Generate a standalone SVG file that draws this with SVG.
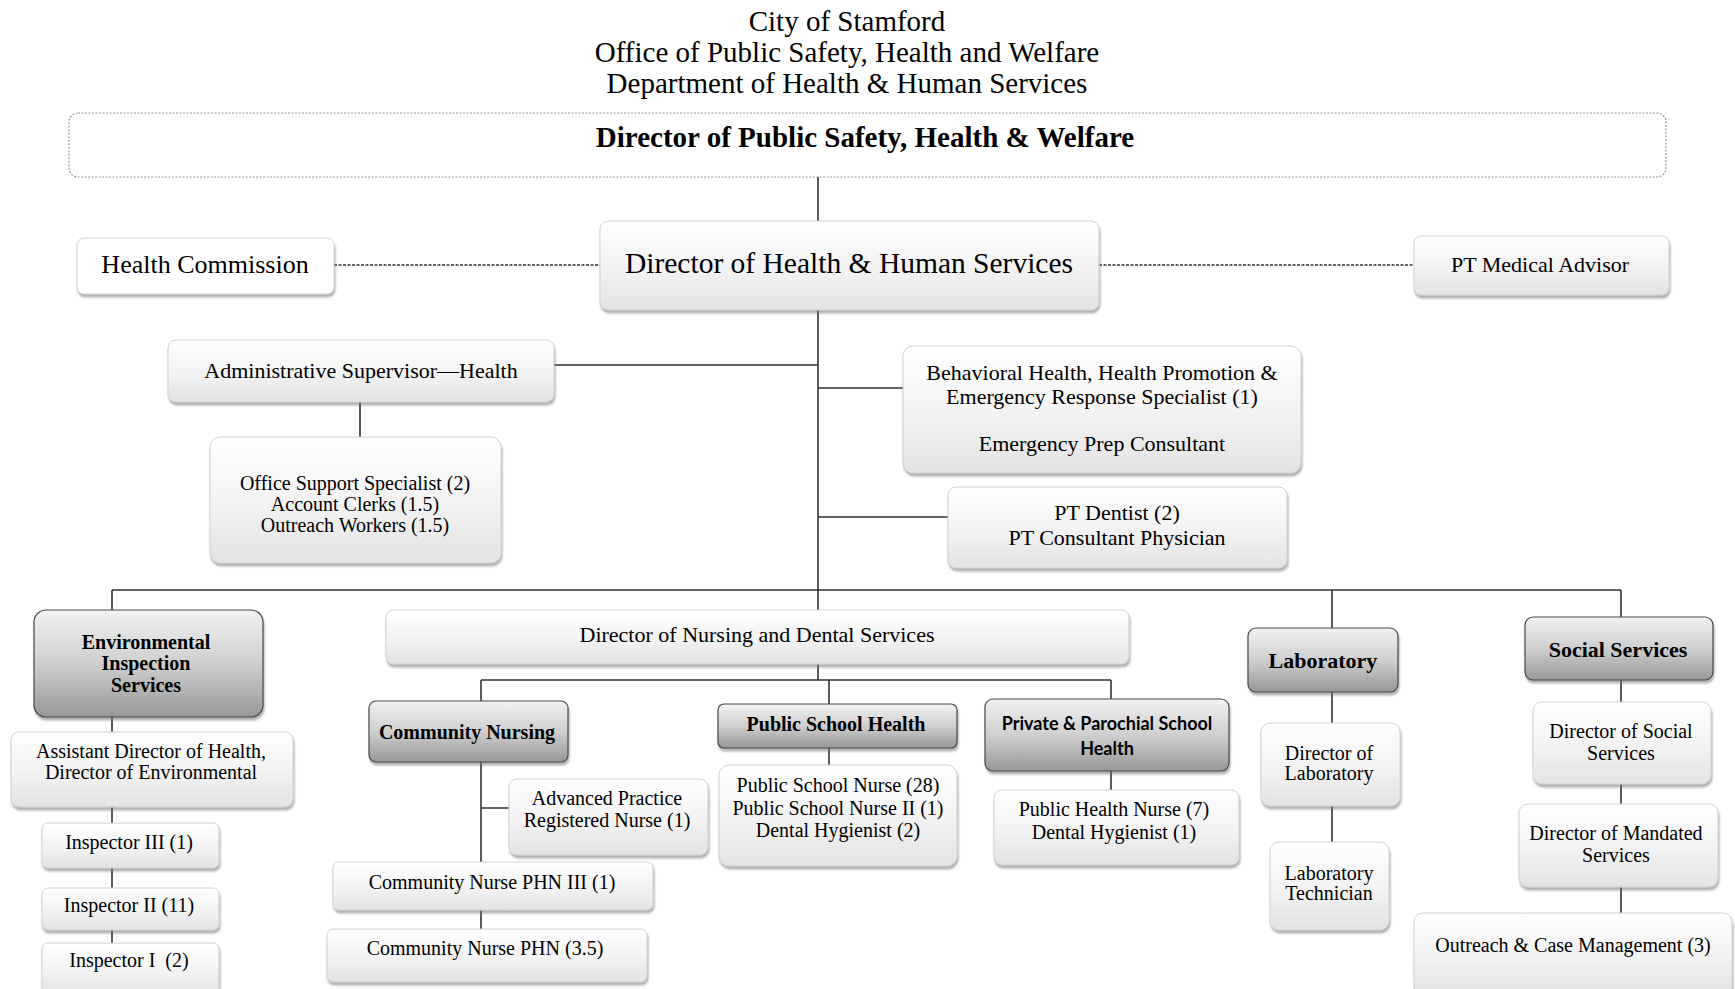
<svg xmlns="http://www.w3.org/2000/svg" width="1735" height="989" viewBox="0 0 1735 989">
<defs>
<linearGradient id="g1" x1="0" y1="0" x2="0" y2="1">
<stop offset="0" stop-color="#ffffff"/><stop offset="0.55" stop-color="#f2f2f2"/><stop offset="1" stop-color="#e3e3e3"/>
</linearGradient>
<linearGradient id="g2" x1="0" y1="0" x2="0" y2="1">
<stop offset="0" stop-color="#f2f2f2"/><stop offset="0.5" stop-color="#cfcfcf"/><stop offset="1" stop-color="#979797"/>
</linearGradient>
<filter id="sh" x="-10%" y="-10%" width="120%" height="130%">
<feDropShadow dx="1" dy="3" stdDeviation="1.3" flood-color="#707070" flood-opacity="0.55"/>
</filter>
<style>
.n{fill:url(#g1);stroke:#d2d2d2;stroke-width:1;filter:url(#sh)}
.h{fill:url(#g2);stroke:#4a4a4a;stroke-width:1.2;filter:url(#sh)}
.t{font-family:"Liberation Serif","Times New Roman",serif;fill:#000;text-anchor:middle}
.s{font-family:Lato,"Liberation Sans",sans-serif;fill:#000;text-anchor:middle;font-weight:bold}
.b{font-weight:bold}
.f20{font-size:20px}.f22{font-size:22px}
.c{stroke:#333;stroke-width:1.6;fill:none}
.d{stroke:#333;stroke-width:1.6;stroke-dasharray:3 1.5;fill:none}
</style>
</defs>
<rect width="1735" height="989" fill="#fff"/>

<g id="title" class="t" font-size="29">
<text x="847" y="31">City of Stamford</text>
<text x="847" y="62">Office of Public Safety, Health and Welfare</text>
<text x="847" y="93">Department of Health &amp; Human Services</text>
</g>

<g id="connectors">
<path class="c" d="M818 177V221"/>
<path class="d" d="M334 265H600M1099 265H1414"/>
<path class="c" d="M818 310V611"/>
<path class="c" d="M554 365H818M360 402V437"/>
<path class="c" d="M818 388H903M818 517H948"/>
<path class="c" d="M112 590H1621M112 590V610M1332 590V628M1621 590V617"/>
<path class="c" d="M112 717V732M112 807V823M112 868V888M112 930V943"/>
<path class="c" d="M818 664V680M481 680H1111M481 680V701M829 680V704M1111 680V699"/>
<path class="c" d="M481 762V862M481 808H509M481 910V929"/>
<path class="c" d="M829 748V765M1111 771V790"/>
<path class="c" d="M1332 692V723M1332 806V842"/>
<path class="c" d="M1621 680V702M1621 784V804M1621 887V913"/>
</g>

<g id="dir-psw">
<rect x="69" y="113" width="1597" height="64" rx="9" fill="#fff" stroke="#9a9a9a" stroke-width="1.2" stroke-dasharray="2 1.5"/>
<text class="t b" font-size="29" x="865" y="147">Director of Public Safety, Health &amp; Welfare</text>
</g>

<g id="dir-hhs">
<rect class="n" x="600" y="221" width="499" height="89" rx="8"/>
<text class="t" font-size="29.5" x="849" y="273">Director of Health &amp; Human Services</text>
</g>

<g id="health-commission">
<rect class="n" x="77" y="238" width="257" height="56" rx="7" style="fill:#fff"/>
<text class="t" font-size="26" x="205" y="273">Health Commission</text>
</g>

<g id="pt-medical">
<rect class="n" x="1414" y="236" width="255" height="59" rx="7"/>
<text class="t f22" x="1540" y="272">PT Medical Advisor</text>
</g>

<g id="admin-sup">
<rect class="n" x="168" y="340" width="386" height="62" rx="8"/>
<text class="t f22" x="361" y="378">Administrative Supervisor—Health</text>
</g>

<g id="office-support">
<rect class="n" x="210" y="437" width="291" height="126" rx="10"/>
<text class="t f20" x="355" y="490">Office Support Specialist (2)</text>
<text class="t f20" x="355" y="511">Account Clerks (1.5)</text>
<text class="t f20" x="355" y="532">Outreach Workers (1.5)</text>
</g>

<g id="behavioral">
<rect class="n" x="903" y="346" width="398" height="127" rx="10"/>
<text class="t f22" x="1102" y="380">Behavioral Health, Health Promotion &amp;</text>
<text class="t f22" x="1102" y="404">Emergency Response Specialist (1)</text>
<text class="t f22" x="1102" y="451">Emergency Prep Consultant</text>
</g>

<g id="pt-dentist">
<rect class="n" x="948" y="487" width="339" height="81" rx="8"/>
<text class="t f22" x="1117" y="520">PT Dentist (2)</text>
<text class="t f22" x="1117" y="545">PT Consultant Physician</text>
</g>

<g id="env">
<rect class="h" x="34" y="610" width="229" height="107" rx="12"/>
<text class="t b f20" x="146" y="649">Environmental</text>
<text class="t b f20" x="146" y="670">Inspection</text>
<text class="t b f20" x="146" y="692">Services</text>
</g>

<g id="asst-dir">
<rect class="n" x="11" y="732" width="282" height="75" rx="8"/>
<text class="t f20" x="151" y="758">Assistant Director of Health,</text>
<text class="t f20" x="151" y="779">Director of Environmental</text>
</g>

<g id="insp3">
<rect class="n" x="42" y="823" width="177" height="45" rx="6"/>
<text class="t f20" x="129" y="849">Inspector III (1)</text>
</g>
<g id="insp2">
<rect class="n" x="42" y="888" width="177" height="42" rx="6"/>
<text class="t f20" x="129" y="912">Inspector II (11)</text>
</g>
<g id="insp1">
<rect class="n" x="42" y="943" width="177" height="52" rx="6"/>
<text class="t f20" x="129" y="967" xml:space="preserve">Inspector I  (2)</text>
</g>

<g id="dir-nursing">
<rect class="n" x="386" y="610" width="743" height="54" rx="7"/>
<text class="t f22" x="757" y="642">Director of Nursing and Dental Services</text>
</g>

<g id="comm-nursing">
<rect class="h" x="369" y="701" width="199" height="61" rx="7"/>
<text class="t b f20" x="467" y="739">Community Nursing</text>
</g>

<g id="aprn">
<rect class="n" x="509" y="779" width="199" height="76" rx="8"/>
<text class="t f20" x="607" y="805">Advanced Practice</text>
<text class="t f20" x="607" y="827">Registered Nurse (1)</text>
</g>

<g id="phn3">
<rect class="n" x="333" y="862" width="320" height="48" rx="6"/>
<text class="t f20" x="492" y="889">Community Nurse PHN III (1)</text>
</g>

<g id="phn">
<rect class="n" x="327" y="929" width="320" height="53" rx="6"/>
<text class="t f20" x="485" y="955">Community Nurse PHN (3.5)</text>
</g>

<g id="psh">
<rect class="h" x="718" y="704" width="239" height="44" rx="6"/>
<text class="t b f20" x="836" y="731">Public School Health</text>
</g>

<g id="psh-staff">
<rect class="n" x="719" y="765" width="238" height="101" rx="10"/>
<text class="t f20" x="838" y="792">Public School Nurse (28)</text>
<text class="t f20" x="838" y="815">Public School Nurse II (1)</text>
<text class="t f20" x="838" y="837">Dental Hygienist (2)</text>
</g>

<g id="ppsh">
<rect class="h" x="985" y="699" width="244" height="72" rx="8"/>
<text class="s" font-size="18" x="1107" y="730">Private &amp; Parochial School</text>
<text class="s" font-size="18" x="1107" y="755">Health</text>
</g>

<g id="ppsh-staff">
<rect class="n" x="994" y="790" width="245" height="75" rx="8"/>
<text class="t f20" x="1114" y="816">Public Health Nurse (7)</text>
<text class="t f20" x="1114" y="839">Dental Hygienist (1)</text>
</g>

<g id="lab">
<rect class="h" x="1248" y="628" width="150" height="64" rx="8"/>
<text class="t b f22" x="1323" y="668">Laboratory</text>
</g>

<g id="dir-lab">
<rect class="n" x="1261" y="723" width="139" height="83" rx="9"/>
<text class="t f20" x="1329" y="760">Director of</text>
<text class="t f20" x="1329" y="780">Laboratory</text>
</g>

<g id="lab-tech">
<rect class="n" x="1270" y="842" width="119" height="88" rx="9"/>
<text class="t f20" x="1329" y="880">Laboratory</text>
<text class="t f20" x="1329" y="900">Technician</text>
</g>

<g id="social">
<rect class="h" x="1525" y="617" width="188" height="63" rx="8"/>
<text class="t b f22" x="1618" y="657">Social Services</text>
</g>

<g id="dir-social">
<rect class="n" x="1533" y="702" width="178" height="82" rx="9"/>
<text class="t f20" x="1621" y="738">Director of Social</text>
<text class="t f20" x="1621" y="760">Services</text>
</g>

<g id="dir-mandated">
<rect class="n" x="1519" y="804" width="199" height="83" rx="9"/>
<text class="t f20" x="1616" y="840">Director of Mandated</text>
<text class="t f20" x="1616" y="862">Services</text>
</g>

<g id="outreach">
<rect class="n" x="1414" y="913" width="318" height="82" rx="9"/>
<text class="t f20" x="1573" y="952">Outreach &amp; Case Management (3)</text>
</g>
</svg>
